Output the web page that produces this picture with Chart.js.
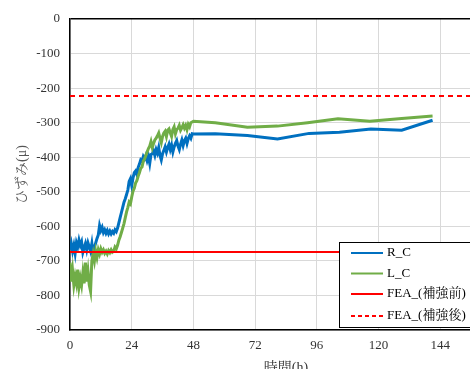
<!DOCTYPE html>
<html>
<head>
<meta charset="utf-8">
<script src="https://cdn.jsdelivr.net/npm/chart.js@4"></script>
<style>
  html, body { margin: 0; padding: 0; background: #fff; overflow: hidden; }
  #wrap { position: absolute; left: 0; top: 0; width: 510px; height: 385px; }
</style>
</head>
<body>
<div id="wrap"><canvas id="strainChart" width="510" height="385"></canvas></div>
<script>
// 時間(h) と ひずみ(μ) の読み取り値
const timeR = [0,0.5,1,1.5,2,2.5,3,3.5,4,4.5,5,5.5,6,6.5,7,7.5,8,8.5,9,9.5,10,10.5,11,11.5,12,12.5,13,13.5,14,14.5,15,15.5,16,16.5,17,17.5,18,18.5,19,19.5,20,20.5,21,21.5,22,22.5,23,23.5,24,24.5,25,25.5,26,26.5,27,27.5,28,28.5,29,29.5,30,30.5,31,31.5,32,32.5,33,33.5,34,34.5,35,35.5,36,36.5,37,37.5,38,38.5,39,39.5,40,40.5,41,41.5,42,42.5,43,43.5,44,44.5,45,45.5,46,46.5,47,47.5,48,56.5,69,80.7,93,104.8,117,129,141];
const strainR = [-668,-650,-672,-655,-678,-648,-660,-640,-655,-645,-675,-662,-650,-668,-648,-660,-672,-650,-680,-660,-648,-635,-625,-598,-612,-603,-618,-610,-620,-612,-622,-614,-622,-615,-620,-610,-615,-605,-590,-575,-560,-545,-530,-520,-508,-495,-470,-462,-482,-460,-445,-440,-450,-430,-420,-408,-412,-398,-405,-395,-410,-398,-418,-392,-390,-382,-395,-378,-388,-372,-395,-408,-390,-380,-370,-385,-372,-362,-378,-365,-385,-370,-360,-352,-368,-378,-362,-350,-366,-352,-345,-360,-346,-338,-345,-332,-333,-332,-337,-347,-331,-328,-318,-322,-293];

const timeL = [0,0.5,1,1.5,2,2.5,3,3.5,4,4.5,5,5.5,6,6.5,7,7.5,8,8.5,9,9.5,10,10.5,11,11.5,12,12.5,13,13.5,14,14.5,15,15.5,16,16.5,17,17.5,18,18.5,19,19.5,20,20.5,21,21.5,22,22.5,23,23.5,24,24.5,25,25.5,26,26.5,27,27.5,28,28.5,29,29.5,30,30.5,31,31.5,32,32.5,33,33.5,34,34.5,35,35.5,36,36.5,37,37.5,38,38.5,39,39.5,40,40.5,41,41.5,42,42.5,43,43.5,44,44.5,45,45.5,46,46.5,47,47.5,48,56.5,69,80.7,92.4,104.2,116.6,129,141];
const strainL = [-705,-760,-728,-770,-745,-765,-725,-775,-750,-770,-735,-765,-705,-760,-730,-770,-788,-700,-680,-700,-672,-690,-668,-680,-665,-675,-668,-678,-672,-680,-670,-676,-668,-675,-672,-660,-665,-655,-640,-630,-618,-605,-592,-575,-558,-545,-530,-535,-515,-498,-490,-475,-468,-455,-445,-432,-428,-412,-405,-395,-385,-375,-368,-355,-372,-360,-350,-345,-338,-330,-345,-358,-340,-330,-325,-340,-322,-318,-330,-340,-320,-312,-332,-320,-316,-308,-322,-315,-306,-316,-308,-320,-305,-312,-300,-298,-296,-300,-313,-310,-300,-289,-296,-288,-281];

const feaBefore = -674;
const feaAfter = -223;
const xTicks = [0, 24, 48, 72, 96, 120, 144];
const yTicks = [0, -100, -200, -300, -400, -500, -600, -700, -800, -900];

const labelNames = ['R_C', 'L_C', 'FEA_(補強前)', 'FEA_(補強後)'];
const lineColors = ['#0070C0', '#70AD47', '#FF0000', '#FF0000'];

function toPoints(xs, ys) {
    return xs.map((x, i) => ({ x: x, y: ys[i] }));
}

const serif = '"Liberation Serif", "Noto Serif CJK JP", "Noto Sans CJK JP", serif';

// 凡例（グラフ内の枠）
const boxLegend = {
    id: 'boxLegend',
    afterDraw(chart) {
        const ctx = chart.ctx;
        const x0 = 339, y0 = 242, w = 200, h = 85;
        ctx.save();
        ctx.fillStyle = '#fff';
        ctx.fillRect(x0, y0, w, h);
        ctx.strokeStyle = '#000';
        ctx.lineWidth = 1;
        ctx.strokeRect(x0 + 0.5, y0 + 0.5, w, h);
        ctx.font = '13px ' + serif;
        ctx.textBaseline = 'middle';
        const rows = [253, 273.5, 294, 316];
        labelNames.forEach((name, i) => {
            ctx.beginPath();
            ctx.strokeStyle = lineColors[i];
            ctx.lineWidth = 2;
            ctx.setLineDash(i === 3 ? [4, 3] : []);
            ctx.moveTo(351, rows[i]);
            ctx.lineTo(383, rows[i]);
            ctx.stroke();
            ctx.setLineDash([]);
            ctx.fillStyle = '#000';
            ctx.fillText(name, 387, rows[i]);
        });
        ctx.restore();
    }
};

const ctx = document.getElementById('strainChart');
new Chart(ctx, {
    type: 'scatter',
    data: {
        datasets: [
            {
                label: labelNames[0],
                data: toPoints(timeR, strainR),
                showLine: true,
                borderColor: lineColors[0],
                borderWidth: 3,
                pointRadius: 0,
                order: 3
            },
            {
                label: labelNames[1],
                data: toPoints(timeL, strainL),
                showLine: true,
                borderColor: lineColors[1],
                borderWidth: 3,
                pointRadius: 0,
                order: 2
            },
            {
                label: labelNames[2],
                data: [{ x: 0, y: feaBefore }, { x: 168, y: feaBefore }],
                showLine: true,
                borderColor: lineColors[2],
                borderWidth: 2,
                pointRadius: 0,
                order: 1
            },
            {
                label: labelNames[3],
                data: [{ x: 0, y: feaAfter }, { x: 168, y: feaAfter }],
                showLine: true,
                borderColor: lineColors[3],
                borderWidth: 2,
                borderDash: [5, 4],
                pointRadius: 0,
                order: 0
            }
        ]
    },
    options: {
        responsive: false,
        animation: false,
        layout: { padding: { top: 19, left: 0, right: 0, bottom: 0 } },
        plugins: {
            legend: { display: false },
            tooltip: { enabled: false }
        },
        scales: {
            x: {
                type: 'linear',
                min: 0,
                max: 168,
                afterBuildTicks: axis => { axis.ticks = xTicks.concat([168]).map(v => ({ value: v })); },
                afterFit: axis => { axis.height = 55; },
                ticks: {
                    callback: v => (xTicks.includes(v) ? String(v) : ''),
                    maxRotation: 0,
                    autoSkip: false,
                    padding: 8,
                    color: '#333',
                    font: { family: serif, size: 13 }
                },
                grid: { color: '#d9d9d9', lineWidth: 1, drawTicks: false },
                border: { color: '#000', width: 1.5 },
                title: {
                    display: true,
                    text: '時間(h)',
                    color: '#333',
                    padding: { top: 0, bottom: 8 },
                    font: { family: serif, size: 14 }
                }
            },
            y: {
                min: -900,
                max: 0,
                afterBuildTicks: axis => { axis.ticks = yTicks.map(v => ({ value: v })); },
                afterFit: axis => { axis.width = 70; },
                ticks: {
                    padding: 10,
                    color: '#333',
                    font: { family: serif, size: 13 }
                },
                grid: {
                    color: c => (c.tick && c.tick.value === 0 ? '#000' : '#d9d9d9'),
                    lineWidth: c => (c.tick && c.tick.value === 0 ? 1.5 : 1),
                    drawTicks: false
                },
                border: { color: '#000', width: 1.5 },
                title: {
                    display: true,
                    text: 'ひずみ(μ)',
                    color: '#555',
                    padding: { top: 14, bottom: 0 },
                    font: { family: serif, size: 14 }
                }
            }
        }
    },
    plugins: [boxLegend]
});
</script>
</body>
</html>
